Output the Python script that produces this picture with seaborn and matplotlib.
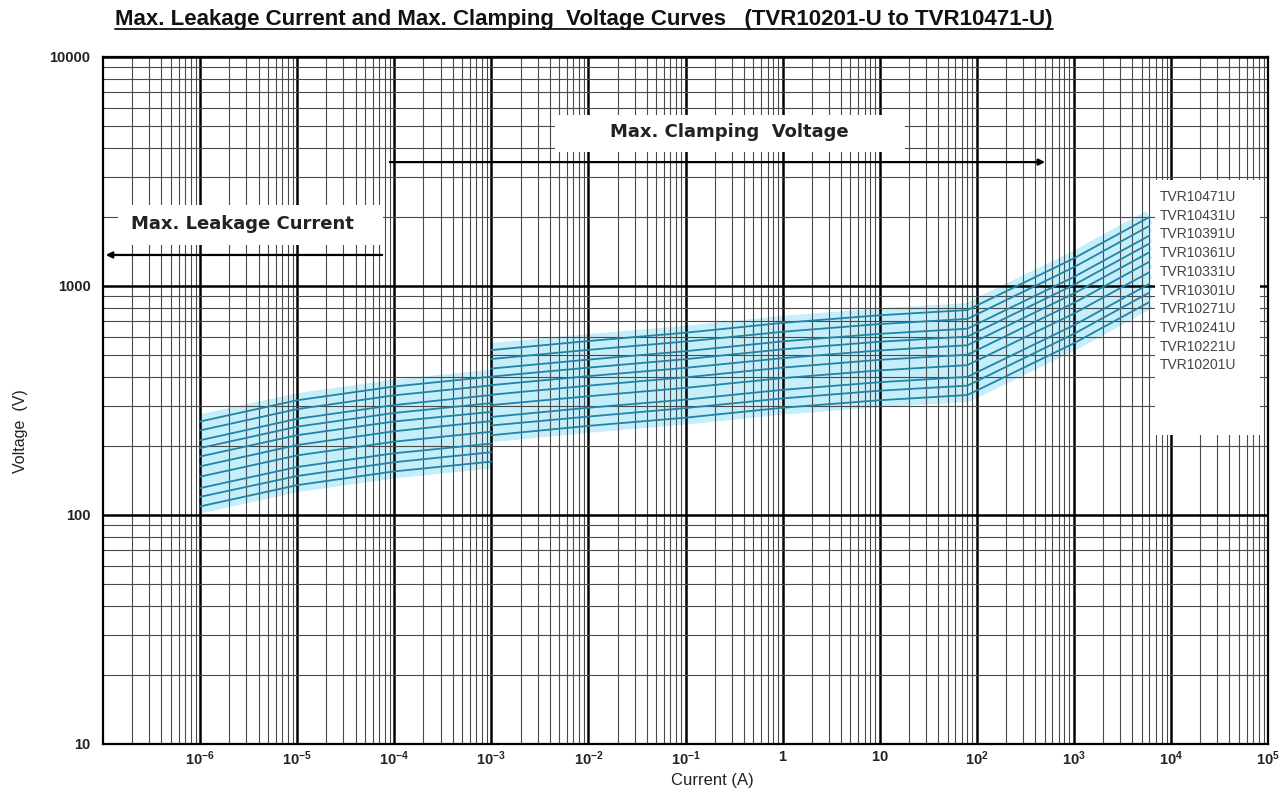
import matplotlib
matplotlib.use("Agg")
import matplotlib.pyplot as plt
import matplotlib.ticker as mticker
from matplotlib.lines import Line2D
from matplotlib.patches import Rectangle
import numpy as np
import pandas as pd
import seaborn as sns

# ---- data ----
models = ["TVR10471U", "TVR10431U", "TVR10391U", "TVR10361U", "TVR10331U",
          "TVR10301U", "TVR10271U", "TVR10241U", "TVR10221U", "TVR10201U"]

leak_current = [1e-6, 1e-5, 1e-4, 1e-3]
leak_voltage = [
    [256, 317, 364, 402],
    [234, 290, 333, 368],
    [212, 263, 302, 334],
    [196, 243, 279, 308],
    [180, 223, 256, 282],
    [163, 202, 232, 257],
    [147, 182, 209, 231],
    [131, 162, 186, 205],
    [120, 148, 170, 188],
    [109, 135, 155, 171],
]

clamp_current = [1e-3, 1e-2, 1e-1, 1, 10, 80, 1000, 6000]
clamp_voltage = [
    [525, 575, 625, 690, 745, 785, 1320, 2000],
    [480, 526, 572, 631, 682, 718, 1208, 1830],
    [436, 477, 519, 573, 618, 651, 1095, 1660],
    [402, 440, 479, 529, 571, 601, 1011, 1532],
    [369, 404, 439, 484, 523, 551, 927, 1404],
    [335, 367, 399, 440, 476, 501, 843, 1277],
    [302, 330, 359, 396, 428, 451, 758, 1149],
    [268, 294, 319, 352, 380, 401, 674, 1021],
    [246, 269, 293, 323, 349, 367, 618, 936],
    [223, 245, 266, 294, 317, 334, 562, 851],
]

x_ticks = [1e-6, 1e-5, 1e-4, 1e-3, 1e-2, 1e-1, 1, 10, 1e2, 1e3, 1e4, 1e5]
x_labels = [r"$\mathbf{10^{-6}}$", r"$\mathbf{10^{-5}}$", r"$\mathbf{10^{-4}}$",
            r"$\mathbf{10^{-3}}$", r"$\mathbf{10^{-2}}$", r"$\mathbf{10^{-1}}$",
            r"$\mathbf{1}$", r"$\mathbf{10}$", r"$\mathbf{10^{2}}$",
            r"$\mathbf{10^{3}}$", r"$\mathbf{10^{4}}$", r"$\mathbf{10^{5}}$"]
y_ticks = [10, 100, 1000, 10000]
y_labels = ["10", "100", "1000", "10000"]

title = "Max. Leakage Current and Max. Clamping  Voltage Curves   (TVR10201-U to TVR10471-U)"

# long table, one "curve" per model and segment
rows = []
for i, name in enumerate(models):
    for c, v in zip(leak_current, leak_voltage[i]):
        rows.append({"model": name, "curve": f"{name}-leak", "current": c, "voltage": v})
    for c, v in zip(clamp_current, clamp_voltage[i]):
        rows.append({"model": name, "curve": f"{name}-clamp", "current": c, "voltage": v})
df = pd.DataFrame(rows)

sns.set_theme(style="white")
plt.rcParams["font.family"] = ["Liberation Sans", "DejaVu Sans"]
plt.rcParams["mathtext.fontset"] = "custom"
plt.rcParams["mathtext.rm"] = "Liberation Sans"
plt.rcParams["mathtext.bf"] = "Liberation Sans:bold"

fig = plt.figure(figsize=(12.81, 7.98), dpi=100)
ax = fig.add_axes([0.0804, 0.0677, 0.9095, 0.8609])
ax.set_xscale("log")
ax.set_yscale("log")

# light cyan halo under the grid, curves on top
sns.lineplot(data=df, x="current", y="voltage", units="curve", estimator=None,
             color="#c4eef9", lw=10, ax=ax, zorder=0.2, solid_capstyle="butt")
sns.lineplot(data=df, x="current", y="voltage", units="curve", estimator=None,
             color="#2383a6", lw=1.3, ax=ax, zorder=3)

ax.set_xlim(1e-7, 1e5)
ax.set_ylim(10, 10000)

ax.xaxis.set_minor_locator(mticker.LogLocator(base=10, subs=np.arange(2, 10), numticks=200))
ax.yaxis.set_minor_locator(mticker.LogLocator(base=10, subs=np.arange(2, 10), numticks=200))
ax.set_xticks(x_ticks)
ax.set_xticklabels(x_labels)
ax.set_yticks(y_ticks)
ax.set_yticklabels(y_labels, fontweight="bold")
ax.tick_params(which="both", length=0, labelsize=10.5, colors="#222222")
ax.tick_params(axis="x", pad=4)
ax.tick_params(axis="y", pad=9)

ax.set_axisbelow(True)
ax.grid(which="major", color="black", lw=1.8)
ax.grid(which="minor", color="#4a4a4a", lw=0.8)
for sp in ax.spines.values():
    sp.set_color("black")
    sp.set_linewidth(1.6)

ax.set_xlabel("")
ax.set_ylabel("")
fig.text(0.556, 0.012, "Current (A)", ha="center", va="bottom", fontsize=12, color="#222222")
fig.text(0.016, 0.46, "Voltage  (V)", ha="center", va="center", rotation=90,
         fontsize=11.5, color="#222222")

# annotation boxes and arrows
ax.add_patch(Rectangle((0.388, 0.862), 0.300, 0.054, transform=ax.transAxes,
                       facecolor="white", edgecolor="none", zorder=4))
ax.text(0.538, 0.891, "Max. Clamping  Voltage", transform=ax.transAxes, ha="center",
        va="center", fontsize=13, fontweight="bold", family="DejaVu Sans",
        color="#222222", zorder=5)
ax.annotate("", xy=(0.811, 0.847), xytext=(0.2438, 0.847), xycoords="axes fraction",
            arrowprops=dict(arrowstyle="-|>", color="black", lw=1.6, mutation_scale=9),
            zorder=5)

ax.add_patch(Rectangle((0.0129, 0.7263), 0.2274, 0.0583, transform=ax.transAxes,
                       facecolor="white", edgecolor="none", zorder=4))
ax.text(0.120, 0.757, "Max. Leakage Current", transform=ax.transAxes, ha="center",
        va="center", fontsize=13, fontweight="bold", family="DejaVu Sans",
        color="#222222", zorder=5)
ax.annotate("", xy=(0.0, 0.7118), xytext=(0.242, 0.7118), xycoords="axes fraction",
            arrowprops=dict(arrowstyle="-|>", color="black", lw=1.6, mutation_scale=9),
            zorder=5)

# model list box on the right
ax.add_patch(Rectangle((0.903, 0.4498), 0.0901, 0.3712, transform=ax.transAxes,
                       facecolor="white", edgecolor="none", zorder=4))
for i, name in enumerate(models):
    ax.text(0.907, 0.796 - i * 0.0272, name, transform=ax.transAxes, ha="left",
            va="center", fontsize=10, color="#444444", zorder=5)

# underlined title
t = fig.text(115 / 1281, 1 - 25 / 798, title, ha="left", va="baseline",
             fontsize=16, fontweight="bold", color="#111111")
fig.canvas.draw()
bb = t.get_window_extent().transformed(fig.transFigure.inverted())
fig.add_artist(Line2D([bb.x0, bb.x1], [1 - 29 / 798, 1 - 29 / 798],
                      transform=fig.transFigure, color="#111111", lw=1.3))

fig.savefig("out.png", dpi=100)
